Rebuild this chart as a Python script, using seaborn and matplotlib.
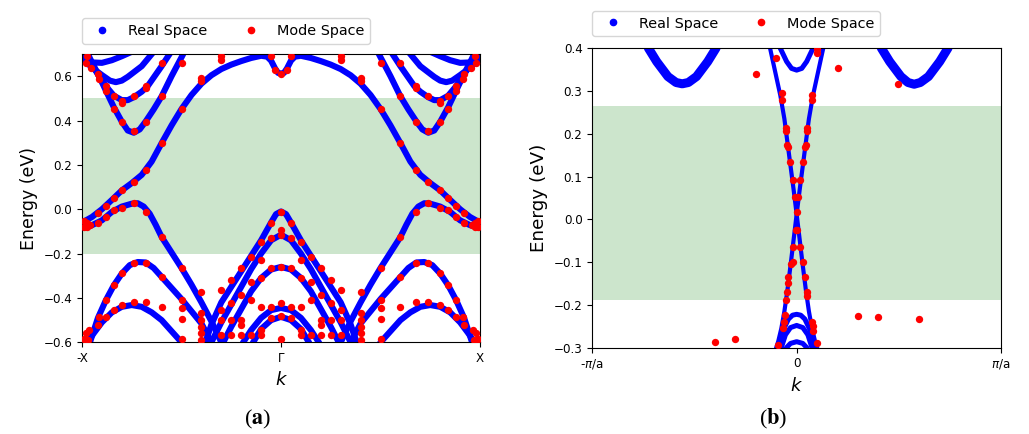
import numpy as np
import pandas as pd
import matplotlib
matplotlib.use("Agg")
import matplotlib.pyplot as plt
import seaborn as sns
from matplotlib.lines import Line2D

# ---------------- Panel (a): bands, left half (k<=0), mirrored about Gamma ----------------
A_C1 = [(-1.0, -0.06), (-0.95, -0.035), (-0.9, 0.0), (-0.85, 0.042), (-0.8, 0.085), (-0.75, 0.118),
        (-0.7, 0.155), (-0.65, 0.215), (-0.6, 0.298), (-0.55, 0.378), (-0.5, 0.452), (-0.45, 0.515),
        (-0.4, 0.566), (-0.35, 0.604), (-0.3, 0.632), (-0.25, 0.652), (-0.2, 0.668), (-0.15, 0.682),
        (-0.1, 0.692), (-0.07, 0.688), (-0.05, 0.67), (-0.03, 0.635), (-0.015, 0.615), (0.0, 0.61)]
A_V1 = [(-1.0, -0.085), (-0.95, -0.072), (-0.9, -0.05), (-0.85, -0.012), (-0.8, 0.012), (-0.75, 0.025),
        (-0.72, 0.027), (-0.69, 0.012), (-0.66, -0.02), (-0.63, -0.07), (-0.6, -0.125), (-0.55, -0.195),
        (-0.5, -0.265), (-0.45, -0.34), (-0.4, -0.42), (-0.35, -0.505), (-0.3, -0.6), (-0.28, -0.64)]
A_V2 = [(-0.4, -0.64), (-0.38, -0.6), (-0.35, -0.52), (-0.3, -0.42), (-0.25, -0.35), (-0.2, -0.28),
        (-0.15, -0.21), (-0.1, -0.14), (-0.05, -0.06), (-0.025, -0.022), (0.0, -0.01)]
A_V2B = [(-0.37, -0.64), (-0.35, -0.6), (-0.3, -0.51), (-0.25, -0.43), (-0.2, -0.35), (-0.15, -0.27),
         (-0.1, -0.2), (-0.05, -0.14), (0.0, -0.115)]
A_V5 = [(-0.31, -0.64), (-0.29, -0.6), (-0.25, -0.53), (-0.2, -0.45), (-0.15, -0.37), (-0.1, -0.31),
        (-0.05, -0.272), (0.0, -0.26)]
A_V6 = [(-0.21, -0.64), (-0.19, -0.6), (-0.15, -0.545), (-0.1, -0.49), (-0.05, -0.455), (0.0, -0.445)]
A_V7 = [(-0.16, -0.64), (-0.14, -0.6), (-0.1, -0.54), (-0.05, -0.5), (0.0, -0.485)]
A_V3 = [(-1.0, -0.7), (-0.96, -0.6), (-0.92, -0.49), (-0.88, -0.41), (-0.84, -0.343), (-0.8, -0.29),
        (-0.76, -0.252), (-0.72, -0.238), (-0.68, -0.24), (-0.64, -0.265), (-0.6, -0.305),
        (-0.55, -0.355), (-0.5, -0.405), (-0.45, -0.46), (-0.4, -0.515), (-0.35, -0.6), (-0.33, -0.64)]
A_V4 = [(-1.0, -0.66), (-0.97, -0.6), (-0.95, -0.57), (-0.9, -0.51), (-0.85, -0.465), (-0.8, -0.44),
        (-0.75, -0.432), (-0.7, -0.44), (-0.65, -0.465), (-0.6, -0.5), (-0.55, -0.55), (-0.5, -0.6),
        (-0.48, -0.64)]
A_C2 = [(-1.0, 0.76), (-0.98, 0.72), (-0.96, 0.68), (-0.92, 0.61), (-0.88, 0.535), (-0.84, 0.46),
        (-0.8, 0.395), (-0.77, 0.355), (-0.74, 0.345), (-0.71, 0.36), (-0.68, 0.396), (-0.64, 0.45),
        (-0.6, 0.509), (-0.55, 0.6), (-0.5, 0.685), (-0.48, 0.72)]
A_C3 = [(-1.0, 0.75), (-0.98, 0.71), (-0.96, 0.665), (-0.92, 0.608), (-0.88, 0.555), (-0.84, 0.512),
        (-0.8, 0.492), (-0.77, 0.492), (-0.74, 0.505), (-0.7, 0.53), (-0.67, 0.555), (-0.6, 0.645),
        (-0.56, 0.7), (-0.54, 0.73)]
A_C4 = [(-1.0, 0.69), (-0.97, 0.655), (-0.93, 0.625), (-0.9, 0.605), (-0.86, 0.58), (-0.83, 0.573),
        (-0.8, 0.58), (-0.77, 0.597), (-0.7, 0.645), (-0.64, 0.71)]
A_C5 = [(-1.0, 0.672), (-0.95, 0.662), (-0.9, 0.66), (-0.85, 0.672), (-0.8, 0.69), (-0.75, 0.71)]

# Mode-space points (left half, mirrored about Gamma)
A_RED = [(-0.99, -0.055), (-0.975, -0.06), (-0.96, -0.07), (-0.99, -0.08), (-0.975, -0.082),
         (-0.92, -0.018), (-0.92, -0.06), (-0.88, 0.015), (-0.88, -0.035), (-0.84, 0.05), (-0.84, -0.005),
         (-0.8, 0.087), (-0.8, 0.006), (-0.74, 0.125), (-0.74, 0.027), (-0.68, 0.177), (-0.68, -0.011),
         (-0.6, 0.297), (-0.6, -0.124), (-0.5, 0.45), (-0.5, -0.264),
         (-0.975, 0.689), (-0.98, 0.66), (-0.955, 0.638), (-0.92, 0.608), (-0.915, 0.586), (-0.88, 0.556),
         (-0.88, 0.534), (-0.84, 0.51), (-0.8, 0.49), (-0.8, 0.479), (-0.84, 0.45), (-0.8, 0.395),
         (-0.74, 0.353), (-0.74, 0.51), (-0.68, 0.395), (-0.68, 0.555), (-0.68, 0.545), (-0.6, 0.66),
         (-0.6, 0.509), (-0.5, 0.66), (-0.4, 0.591), (-0.4, 0.576), (-0.3, 0.689), (-0.3, 0.674),
         (-0.05, 0.689), (-0.03, 0.63), (0.0, 0.61),
         (-0.74, -0.244), (-0.68, -0.244), (-0.8, -0.289), (-0.84, -0.342), (-0.88, -0.41), (-0.915, -0.485),
         (-0.6, -0.304), (-0.5, -0.41),
         (-0.74, -0.417), (-0.8, -0.432), (-0.84, -0.456), (-0.88, -0.485), (-0.92, -0.522), (-0.68, -0.417),
         (-0.6, -0.44), (-0.5, -0.447), (-0.5, -0.495),
         (-0.99, -0.583), (-0.98, -0.56), (-0.965, -0.545), (-0.97, -0.59), (-0.5, -0.583),
         (-0.4, -0.372), (-0.4, -0.47), (-0.4, -0.5), (-0.4, -0.53), (-0.4, -0.56), (-0.4, -0.59),
         (-0.3, -0.364), (-0.3, -0.455), (-0.3, -0.5), (-0.3, -0.568),
         (-0.25, -0.319), (-0.25, -0.424), (-0.25, -0.5), (-0.25, -0.568),
         (-0.2, -0.266), (-0.2, -0.387), (-0.2, -0.5), (-0.2, -0.523), (-0.2, -0.568),
         (-0.15, -0.214), (-0.15, -0.327), (-0.15, -0.41), (-0.15, -0.568),
         (-0.1, -0.146), (-0.1, -0.229), (-0.1, -0.312), (-0.1, -0.44), (-0.1, -0.545), (-0.1, -0.568),
         (-0.05, -0.063), (-0.05, -0.131), (-0.05, -0.266), (-0.05, -0.44), (-0.05, -0.492),
         (0.0, -0.011), (0.0, -0.093), (0.0, -0.116), (0.0, -0.259), (0.0, -0.424), (0.0, -0.48),
         (0.0, -0.583)]

A_GAP = (-0.2, 0.5)
A_XTICKS = [-1, 0, 1]
A_XLABELS = ["-X", "Γ", "X"]
A_YTICKS = [-0.6, -0.4, -0.2, 0.0, 0.2, 0.4, 0.6]

# ---------------- Panel (b) ----------------
B_P1 = [(-0.745, 0.43), (-0.725, 0.4), (-0.685, 0.369), (-0.63, 0.334), (-0.59, 0.32), (-0.56, 0.317),
        (-0.53, 0.32), (-0.49, 0.334), (-0.435, 0.369), (-0.395, 0.4), (-0.375, 0.43)]
B_P2 = [(0.395, 0.43), (0.415, 0.4), (0.455, 0.369), (0.51, 0.334), (0.545, 0.32), (0.575, 0.316),
        (0.605, 0.32), (0.645, 0.334), (0.7, 0.369), (0.74, 0.4), (0.76, 0.43)]
B_P0 = [(-0.095, 0.43), (-0.08, 0.4), (-0.049, 0.369), (-0.025, 0.353), (0.0, 0.349), (0.025, 0.353),
        (0.049, 0.369), (0.08, 0.4), (0.095, 0.43)]
B_XL = [(-0.135, 0.42), (-0.13, 0.4), (-0.105, 0.345), (-0.08, 0.29), (-0.06, 0.235), (-0.045, 0.18),
        (-0.03, 0.125), (-0.015, 0.07), (0.0, 0.012), (0.015, -0.048), (0.03, -0.108), (0.045, -0.165),
        (0.06, -0.215), (0.075, -0.255), (0.09, -0.285), (0.1, -0.3), (0.11, -0.32)]
B_XR = [(0.135, 0.42), (0.13, 0.4), (0.105, 0.345), (0.08, 0.29), (0.06, 0.235), (0.045, 0.18),
        (0.03, 0.125), (0.015, 0.07), (0.0, 0.012), (-0.015, -0.048), (-0.03, -0.108), (-0.045, -0.165),
        (-0.06, -0.215), (-0.075, -0.255), (-0.09, -0.285), (-0.1, -0.3), (-0.11, -0.32)]
B_L1 = [(-0.1, -0.32), (-0.09, -0.3), (-0.065, -0.258), (-0.04, -0.233), (-0.02, -0.224), (0.0, -0.222),
        (0.02, -0.224), (0.04, -0.233), (0.065, -0.258), (0.09, -0.3), (0.1, -0.32)]
B_L2 = [(-0.085, -0.32), (-0.075, -0.3), (-0.055, -0.27), (-0.03, -0.253), (0.0, -0.248), (0.03, -0.253),
        (0.055, -0.27), (0.075, -0.3), (0.085, -0.32)]
B_L3 = [(-0.06, -0.32), (-0.05, -0.3), (-0.03, -0.29), (0.0, -0.286), (0.03, -0.29), (0.05, -0.3),
        (0.06, -0.32)]

B_RED = [(-0.2, 0.34), (-0.1, 0.377), (0.099, 0.388), (0.2, 0.355), (0.497, 0.317), (0.1, 0.398),
         (-0.4, -0.286), (-0.3, -0.28), (0.298, -0.226), (0.396, -0.229), (0.6, -0.234),
         (-0.073, 0.295), (-0.073, 0.279), (-0.052, 0.213), (-0.052, 0.207), (-0.046, 0.174),
         (-0.04, 0.17), (-0.033, 0.135), (-0.016, 0.092), (-0.008, 0.053), (0.0, 0.018),
         (-0.004, -0.025), (-0.016, -0.064), (-0.02, -0.099), (-0.03, -0.105), (-0.04, -0.134),
         (-0.043, -0.148), (-0.049, -0.169), (-0.052, -0.189), (-0.057, -0.224), (-0.062, -0.24),
         (-0.068, -0.255), (-0.09, -0.294),
         (0.073, 0.29), (0.073, 0.28), (0.052, 0.213), (0.052, 0.207), (0.046, 0.174), (0.04, 0.17),
         (0.033, 0.135), (0.016, 0.092), (0.008, 0.053), (0.004, -0.025), (0.016, -0.064),
         (0.033, -0.1), (0.041, -0.134), (0.049, -0.17), (0.052, -0.18), (0.073, -0.24),
         (0.078, -0.25), (0.082, -0.26), (0.098, -0.29)]

B_GAP = (-0.188, 0.265)
B_XTICKS = [-1, 0, 1]
B_XLABELS = ["-$\\pi$/a", "0", "$\\pi$/a"]
B_YTICKS = [-0.3, -0.2, -0.1, 0.0, 0.1, 0.2, 0.3, 0.4]

LEGEND_LABELS = ["Real Space", "Mode Space"]


def mirror(pts):
    return list(pts) + [(-k, e) for k, e in reversed(pts) if k < 0]


def frame(bands):
    rows = [(name, k, e) for name, pts in bands.items() for k, e in pts]
    return pd.DataFrame(rows, columns=["band", "k", "E"])


def points(pts):
    return pd.DataFrame(pts, columns=["k", "E"])


BLUE = "#0000ff"
RED = "#ff0000"

fig = plt.figure(figsize=(10.29, 4.34), dpi=100)
axA = fig.add_axes([0.0797, 0.2113, 0.3868, 0.6643])
axB = fig.add_axes([0.5756, 0.1989, 0.3972, 0.6898])

line_kw = dict(estimator=None, sort=False, color=BLUE, legend=False,
               solid_capstyle="round", solid_joinstyle="round")

# ---- panel (a)
bandsA = {name: mirror(p) for name, p in
          dict(C1=A_C1, V1=A_V1, V2=A_V2, V2B=A_V2B, V5=A_V5, V6=A_V6, V7=A_V7,
               V3=A_V3, V4=A_V4, C2=A_C2, C3=A_C3, C4=A_C4, C5=A_C5).items()}
dfA = frame(bandsA)
axA.axhspan(*A_GAP, color="green", alpha=0.2, lw=0, zorder=0)
sns.lineplot(data=dfA, x="k", y="E", units="band", linewidth=4.4, ax=axA, zorder=2, **line_kw)
sns.scatterplot(data=points(mirror(A_RED)), x="k", y="E", color=RED, s=28, linewidth=0,
                ax=axA, zorder=3, legend=False)
axA.set_xlim(-1, 1)
axA.set_ylim(-0.6, 0.7)
axA.set_xticks(A_XTICKS)
axA.set_xticklabels(A_XLABELS)
axA.set_yticks(A_YTICKS)

# ---- panel (b)
dfB_thick = frame(dict(P1=B_P1, P2=B_P2))
dfB_mid = frame(dict(P0=B_P0, L1=B_L1, L2=B_L2, L3=B_L3))
dfB_x = frame(dict(XL=B_XL, XR=B_XR))
axB.axhspan(*B_GAP, color="green", alpha=0.2, lw=0, zorder=0)
sns.lineplot(data=dfB_thick, x="k", y="E", units="band", linewidth=6.5, ax=axB, zorder=2, **line_kw)
sns.lineplot(data=dfB_mid, x="k", y="E", units="band", linewidth=3.6, ax=axB, zorder=2, **line_kw)
sns.lineplot(data=dfB_x, x="k", y="E", units="band", linewidth=3.0, ax=axB, zorder=2, **line_kw)
sns.scatterplot(data=points(B_RED), x="k", y="E", color=RED, s=28, linewidth=0,
                ax=axB, zorder=3, legend=False)
axB.set_xlim(-1, 1)
axB.set_ylim(-0.3, 0.4)
axB.set_xticks(B_XTICKS)
axB.set_xticklabels(B_XLABELS)
axB.set_yticks(B_YTICKS)

handles = [Line2D([], [], marker="o", linestyle="None", color=BLUE, markersize=4.5),
           Line2D([], [], marker="o", linestyle="None", color=RED, markersize=4.5)]

for ax, yl, lab_fs in ((axA, 1.035, 12.5), (axB, 1.04, 13.2)):
    ax.set_xlabel("$k$", fontsize=13)
    ax.set_ylabel("Energy (eV)", fontsize=lab_fs)
    ax.tick_params(labelsize=8.6)
    ax.legend(handles, LEGEND_LABELS, ncol=2, loc="lower left", bbox_to_anchor=(0, yl),
              borderaxespad=0, fontsize=10.4)

plt.rcParams["mathtext.fontset"] = "stix"
fig.text(258 / 1029, 1 - 419 / 434, r"($\mathbf{a}$)", ha="center", va="center",
         fontsize=16, family="Liberation Serif")
fig.text(773 / 1029, 1 - 419 / 434, r"($\mathbf{b}$)", ha="center", va="center",
         fontsize=16, family="Liberation Serif")

fig.savefig("out.png", dpi=100)
